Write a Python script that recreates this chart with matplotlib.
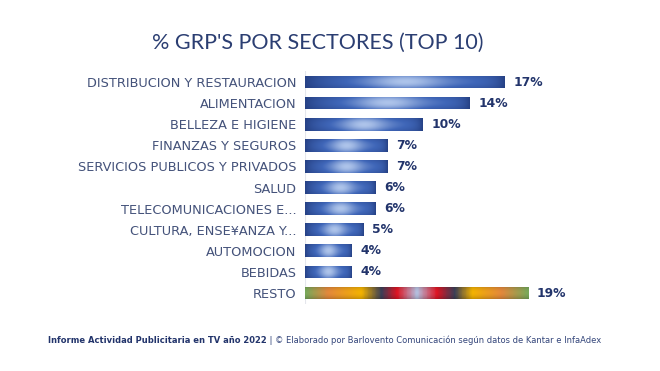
import numpy as np
import matplotlib.pyplot as plt
from matplotlib.colors import LinearSegmentedColormap

sectors = ['DISTRIBUCION Y RESTAURACION', 'ALIMENTACION', 'BELLEZA E HIGIENE',
           'FINANZAS Y SEGUROS', 'SERVICIOS PUBLICOS Y PRIVADOS', 'SALUD',
           'TELECOMUNICACIONES E...', 'CULTURA, ENSE¥ANZA Y...', 'AUTOMOCION',
           'BEBIDAS', 'RESTO']
values = [17, 14, 10, 7, 7, 6, 6, 5, 4, 4, 19]
value_labels = ['17%', '14%', '10%', '7%', '7%', '6%', '6%', '5%', '4%', '4%', '19%']

title = "% GRP'S POR SECTORES (TOP 10)"
footer_bold = 'Informe Actividad Publicitaria en TV año 2022'
footer_rest = ' | © Elaborado por Barlovento Comunicación según datos de Kantar e InfaAdex'

navy = '#22346b'
label_col = '#44527a'

blue_cmap = LinearSegmentedColormap.from_list(
    'bluebar', [(0, '#1f3777'), (0.5, '#3f66b8'), (1, '#b6cbee')])
resto_cmap = LinearSegmentedColormap.from_list('resto', [
    (0.00, '#79a95a'), (0.10, '#e4883c'), (0.25, '#f4b300'), (0.34, '#3b3f58'),
    (0.41, '#df1422'), (0.50, '#b4c2e2'), (0.59, '#df1422'), (0.67, '#3b3f58'),
    (0.75, '#f4b300'), (0.88, '#e4883c'), (1.00, '#79a95a')])

plt.rcParams['font.family'] = ['DejaVu Sans']

fig = plt.figure(figsize=(6.6, 3.71), dpi=100)
ax = fig.add_axes([0.462, 0.1818, 0.4447, 0.6256])

y = np.arange(len(sectors))
bars = ax.barh(y, values, height=0.6, color='none', edgecolor='none')

# gradient fill, clipped to each bar
xx = np.linspace(0, 1, 200)
yy = np.linspace(-1, 1, 30)
X, Y = np.meshgrid(xx, yy)
edge = (1 - np.exp(-X / 0.12)) * (1 - np.exp(-(1 - X) / 0.06))
shade_blue = (0.12 + 0.4 * edge + 0.45 * np.exp(-((X - 0.5) / 0.2) ** 2)) * (1 - 0.3 * Y ** 2)
shade_blue = np.clip(shade_blue, 0, 1)
for i, bar in enumerate(bars):
    x0, y0 = bar.get_x(), bar.get_y()
    w, h = bar.get_width(), bar.get_height()
    if sectors[i] == 'RESTO':
        img = resto_cmap(X)
        img[..., :3] *= (1 - 0.18 * Y[..., None] ** 2)
    else:
        img = blue_cmap(shade_blue)
    im = ax.imshow(img, extent=[x0, x0 + w, y0 + h, y0], aspect='auto',
                   interpolation='bilinear', zorder=2)
    im.set_clip_path(bar)
    ax.text(w + 0.75, i, value_labels[i], va='center', ha='left',
            fontsize=8.9, fontweight='bold', color=navy)

ax.axvline(0, color='#e4e6ec', lw=0.8, zorder=1)
ax.set_xlim(0, 25)
ax.set_ylim(len(sectors) - 0.5, -0.5)
ax.set_yticks(y)
ax.set_yticklabels(sectors, fontsize=9.3, color=label_col)
ax.tick_params(axis='y', length=0, pad=6)
ax.set_xticks([])
for s in ax.spines.values():
    s.set_visible(False)

fig.text(0.482, 0.885, title, ha='center', va='center', fontsize=15.5,
         color='#2b3e72', family='Lato')

fig.canvas.draw()
r = fig.canvas.get_renderer()
t1 = fig.text(0.073, 0.083, footer_bold, ha='left', va='center', fontsize=6.0,
              fontweight='bold', color=navy)
bb = t1.get_window_extent(renderer=r)
x_next = bb.x1 / fig.bbox.width
fig.text(x_next, 0.083, footer_rest, ha='left', va='center', fontsize=6.0, color='#33457a')

fig.savefig('out.png', dpi=100)
